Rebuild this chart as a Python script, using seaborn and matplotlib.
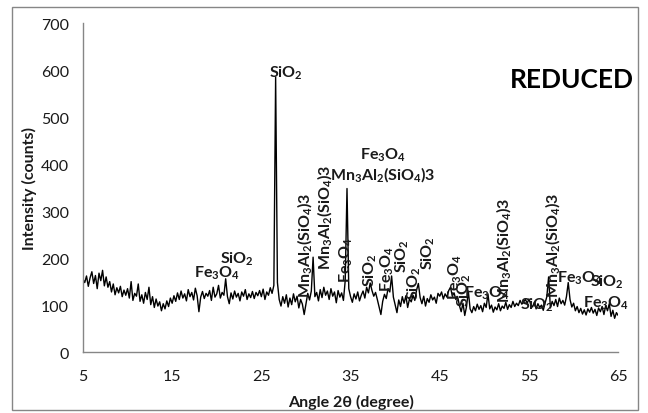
import numpy as np
import pandas as pd
import matplotlib
matplotlib.use("Agg")
import matplotlib.pyplot as plt
from matplotlib.patches import Rectangle
import seaborn as sns

# ── Scan data (step 0.2 deg) ───────────────────────────────────────
step = 0.2
int_05_15 = [155, 148, 162, 140, 158, 171, 146, 163, 135, 168,
             152, 174, 141, 160, 138, 150, 128, 145, 122, 137,
             126, 140, 118, 132, 121, 135, 115, 150, 110, 125,
             119, 145, 108, 122, 104, 127, 112, 138, 101, 118,
             95, 113, 98, 107, 88, 103, 92, 109, 97, 115]
int_15_25 = [104, 120, 108, 126, 112, 130, 115, 124, 109, 133,
             118, 127, 111, 136, 120, 86, 117, 129, 114, 125,
             119, 131, 110, 138, 117, 124, 142, 115, 127, 121,
             156, 118, 103, 126, 113, 130, 117, 125, 109, 128,
             119, 133, 112, 124, 116, 129, 114, 127, 120, 131]
int_25_35 = [118, 134, 112, 128, 121, 137, 125, 142, 585, 148,
             112, 98, 118, 104, 122, 96, 115, 101, 124, 107,
             119, 94, 112, 102, 80, 103, 125, 111, 130, 202,
             118, 127, 109, 133, 116, 138, 121, 130, 112, 135,
             119, 128, 105, 131, 117, 126, 110, 152, 348, 135]
int_35_45 = [118, 106, 124, 113, 128, 109, 121, 130, 115, 138,
             126, 147, 131, 119, 127, 112, 96, 80, 108, 123,
             114, 135, 128, 162, 117, 100, 84, 111, 97, 118,
             104, 120, 95, 113, 107, 121, 110, 132, 146, 116,
             103, 119, 98, 114, 106, 122, 111, 117, 104, 125]
int_45_55 = [119, 128, 113, 124, 117, 131, 138, 120, 126, 112,
             118, 99, 86, 104, 78, 97, 130, 92, 84, 97,
             88, 102, 91, 99, 86, 104, 95, 124, 92, 100,
             85, 96, 90, 103, 88, 98, 93, 106, 91, 101,
             95, 108, 97, 104, 99, 110, 102, 107, 112, 104]
int_55_65 = [113, 101, 96, 106, 92, 103, 95, 100, 89, 104,
             118, 160, 94, 108, 99, 112, 97, 115, 103, 110,
             100, 118, 148, 112, 96, 104, 88, 97, 84, 93,
             81, 90, 79, 92, 85, 95, 83, 91, 78, 94,
             86, 97, 80, 99, 88, 103, 76, 89, 72, 84, 78]

intensity = int_05_15 + int_15_25 + int_25_35 + int_35_45 + int_45_55 + int_55_65
angle = np.round(5 + step * np.arange(len(intensity)), 2)
df = pd.DataFrame({"angle": angle, "intensity": intensity})

MN = "Mn$_3$Al$_2$(SiO$_4$)3"
FE = "Fe$_3$O$_4$"
SI = "SiO$_2$"

# peak labels written upright: (text, angle, intensity at centre)
flat_labels = [
    (SI, 22.3, 200), (FE, 20.0, 170), (SI, 27.8, 596),
    (FE, 38.6, 421), (MN, 38.6, 379), (FE, 50.3, 128),
    (SI, 55.9, 102), (FE, 60.7, 160), (SI, 63.7, 151), (FE, 63.6, 106),
]
# peak labels written vertically: (text, angle, intensity at base)
vert_labels = [
    (MN, 29.9, 117), (MN, 32.1, 177), (FE, 34.5, 149), (SI, 37.2, 140),
    (FE, 39.1, 130), (SI, 40.8, 170), (SI, 42.2, 113), (SI, 43.7, 177),
    (FE, 46.7, 113), (SI, 47.7, 98), (MN, 52.1, 106), (MN, 57.7, 117),
]

x_ticks = [5, 15, 25, 35, 45, 55, 65]
y_ticks = [0, 100, 200, 300, 400, 500, 600, 700]

# ── Style ──────────────────────────────────────────────────────────
sns.set_theme(style="white")
plt.rcParams.update({
    "font.family": ["Lato", "DejaVu Sans"],
    "mathtext.fontset": "custom",
    "mathtext.rm": "Lato:bold",
    "mathtext.it": "Lato:italic",
    "mathtext.bf": "Lato:bold",
})
GRAY = "#868686"
TXT = "#1a1a1a"

fig = plt.figure(figsize=(6.48, 4.14), dpi=100)
ax = fig.add_axes([0.128, 0.147, 0.826, 0.795])

sns.lineplot(data=df, x="angle", y="intensity", color="black",
             linewidth=1.0, estimator=None, ax=ax)

ax.set_xlim(5, 65)
ax.set_ylim(0, 700)
ax.set_xticks(x_ticks)
ax.set_yticks(y_ticks)
ax.tick_params(axis="both", direction="out", length=4, width=1,
               color=GRAY, labelsize=11.5, labelcolor=TXT, pad=6)
ax.tick_params(axis="x", pad=8)
for side in ["top", "right"]:
    ax.spines[side].set_visible(False)
for side in ["left", "bottom"]:
    ax.spines[side].set_color(GRAY)
    ax.spines[side].set_linewidth(1)

ax.set_xlabel("Angle 2θ (degree)", fontsize=11.5, fontweight="bold",
              color=TXT, labelpad=8)
ax.set_ylabel("Intensity (counts)", fontsize=11.5, fontweight="bold",
              color=TXT, labelpad=3)

for txt, x, y in flat_labels:
    ax.text(x, y, txt, ha="center", va="center", fontsize=11.5,
            fontweight="bold", color=TXT, clip_on=False)
for txt, x, y in vert_labels:
    ax.text(x, y, txt, ha="center", va="bottom", rotation=90,
            fontsize=11.5, fontweight="bold", color=TXT, clip_on=False)

ax.text(66.8, 581, "REDUCED", ha="right", va="center", fontsize=19,
        fontweight="bold", color="black", clip_on=False)

# outer chart border
fig.patches.append(Rectangle((0.0185, 0.007), 0.966, 0.974,
                             transform=fig.transFigure, fill=False,
                             edgecolor=GRAY, linewidth=1))

fig.savefig("out.png", dpi=100, facecolor="white")
